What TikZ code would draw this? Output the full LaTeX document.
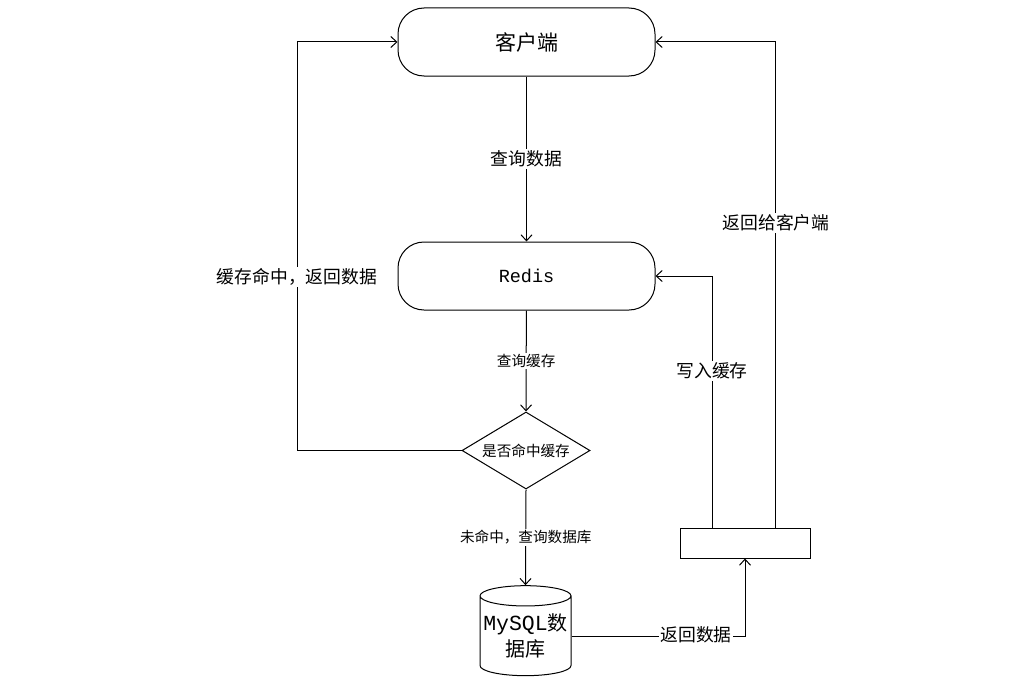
\documentclass[tikz,border=0pt]{standalone}
\usepackage{fontspec}
\setmainfont{Noto Sans CJK SC}
\newfontfamily\monof{Liberation Mono}
\usetikzlibrary{arrows.meta,shapes.geometric}
\begin{document}
\begin{tikzpicture}[x=1pt,y=-1pt,
  line width=1pt,
  arr/.style={-{Straight Barb[length=6pt,width=11pt]}},
  term/.style={draw,rounded corners=26pt,minimum width=257pt,minimum height=68pt,inner sep=0pt},
  lbl/.style={fill=white,inner sep=1.5pt,font=\fontsize{17.8}{20}\selectfont},
  slbl/.style={fill=white,inner sep=1.5pt,font=\fontsize{14.6}{17}\selectfont}]
\useasboundingbox (0,0) rectangle (1025,685);
\node[term,font=\fontsize{21}{24}\selectfont] (client) at (526.5,42) {客户端};
\node[term,font=\monof\fontsize{18.5}{22}\selectfont] (redis) at (526.5,276) {Redis};
\node[draw,diamond,minimum width=128pt,minimum height=77pt,inner sep=0pt,aspect=1.66,font=\fontsize{14.6}{17}\selectfont] (dec) at (526,450.5) {是否命中缓存};
\node[draw,cylinder,shape border rotate=90,aspect=0.24,minimum width=91pt,minimum height=90pt,inner sep=0pt,align=center,font=\fontsize{20}{25}\selectfont] (db) at (525.5,636) {{\monof\fontsize{21.5}{25}\selectfont MySQL}数\\[1pt]据库};
\node[draw,minimum width=130pt,minimum height=30pt,inner sep=0pt] (box) at (745,543) {};
\coordinate (wl) at (712,528);
\coordinate (wr) at (775,528);
\coordinate (lx) at (297,450.5);
\draw[arr] (client) -- node[lbl]{查询数据} (redis);
\draw[arr] (redis) -- node[slbl]{查询缓存} (dec.north);
\draw[arr] (dec.south) -- node[slbl]{未命中，查询数据库} (db.north);
\draw[arr] (dec.west) -- (lx) |- (client.west);
\node[lbl] (l1) at (297,277) {缓存命中，返回数据};
\draw[arr] (db.east) -| (box.south);
\node[lbl] (l2) at (696,634.5) {返回数据};
\draw[arr] (wl) |- (redis.east);
\node[lbl] (l3) at (712,371) {写入缓存};
\draw[arr] (wr) |- (client.east);
\node[lbl] (l4) at (776,223) {返回给客户端};
\end{tikzpicture}
\end{document}
